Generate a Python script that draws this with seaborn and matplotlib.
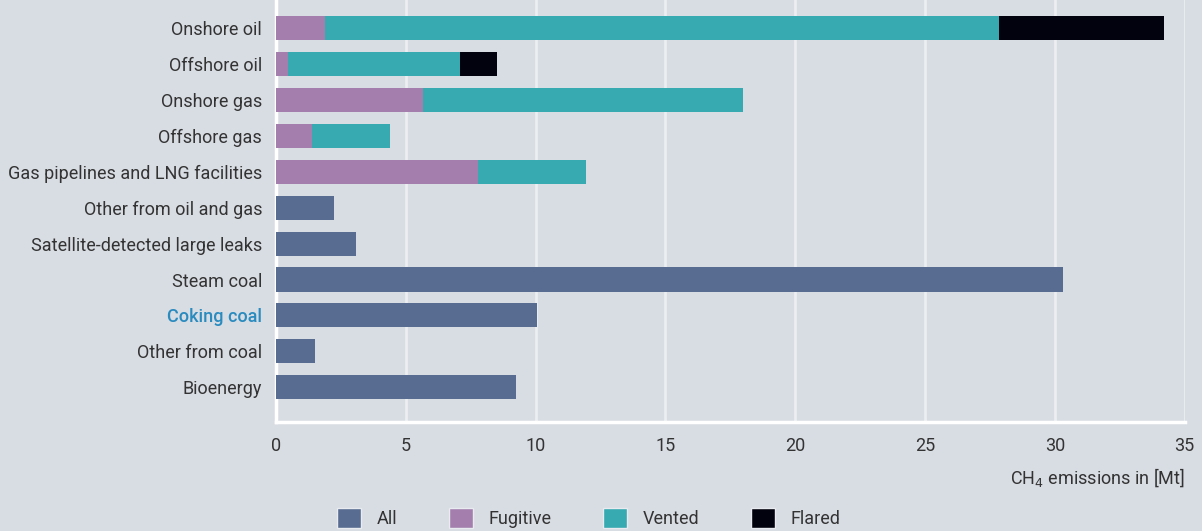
import seaborn as sns
import pandas as pd
import matplotlib.pyplot as plt
from matplotlib.patches import Patch

# Data (Mt CH4)
sources = ['Onshore oil', 'Offshore oil', 'Onshore gas', 'Offshore gas',
           'Gas pipelines and LNG facilities', 'Other from oil and gas',
           'Satellite-detected large leaks', 'Steam coal', 'Coking coal',
           'Other from coal', 'Bioenergy']
all_ = [0, 0, 0, 0, 0, 2.25, 3.1, 30.3, 10.05, 1.5, 9.25]
fugitive = [1.9, 0.45, 5.65, 1.4, 7.8, 0, 0, 0, 0, 0, 0]
vented = [25.95, 6.65, 12.35, 3.0, 4.15, 0, 0, 0, 0, 0, 0]
flared = [6.35, 1.4, 0, 0, 0, 0, 0, 0, 0, 0, 0]

colors = {'All': '#586b91', 'Fugitive': '#a47fad', 'Vented': '#37a9b0', 'Flared': '#02020f'}
bg = '#d8dce3'
txt = '#333333'

df = pd.DataFrame({'source': sources, 'All': all_, 'Fugitive': fugitive,
                   'Vented': vented, 'Flared': flared})
df['c_fug'] = df['Fugitive']
df['c_vent'] = df['c_fug'] + df['Vented']
df['c_flare'] = df['c_vent'] + df['Flared']

plt.rcParams['font.family'] = ['Roboto', 'DejaVu Sans']
fig = plt.figure(figsize=(12.02, 5.31), dpi=100, facecolor=bg)
ax = fig.add_axes([0.2296, 0.205, 0.756, 0.795])
ax.set_facecolor(bg)

# stacked bars: draw cumulative totals from largest to smallest
for col, key in [('c_flare', 'Flared'), ('c_vent', 'Vented'), ('c_fug', 'Fugitive'), ('All', 'All')]:
    sns.barplot(data=df, x=col, y='source', order=sources, color=colors[key],
                width=0.67, saturation=1, ax=ax, zorder=3)

ax.set_xlim(0, 35)
ax.set_ylim(10.97, -0.78)
ax.set_xticks(range(0, 36, 5))
ax.grid(axis='x', color='#eceef1', linewidth=2, zorder=0)
ax.set_axisbelow(True)
for s in ['top', 'right']:
    ax.spines[s].set_visible(False)
ax.spines['left'].set_color('white')
ax.spines['left'].set_linewidth(2.5)
ax.spines['bottom'].set_color('white')
ax.spines['bottom'].set_linewidth(2.5)
ax.tick_params(axis='both', length=0, labelsize=13, colors=txt)
ax.tick_params(axis='x', pad=11)
ax.tick_params(axis='y', pad=10)
ax.set_ylabel('')
ax.set_xlabel('CH$_4$ emissions in [Mt]', fontsize=13, color=txt, loc='right', labelpad=8)
for lab in ax.get_yticklabels():
    if lab.get_text() == 'Coking coal':
        lab.set_color('#2a8bbf')
        lab.set_fontweight('medium')

handles = [Patch(facecolor=colors[k], edgecolor='#e8ebef', linewidth=1) for k in colors]
fig.legend(handles, list(colors), loc='lower center', bbox_to_anchor=(0.49, -0.025),
           ncol=4, frameon=False, fontsize=13, handlelength=1.3, handleheight=1.3,
           handletextpad=0.9, columnspacing=2.85, labelcolor=txt)

fig.savefig('out.png', dpi=100, facecolor=bg)
